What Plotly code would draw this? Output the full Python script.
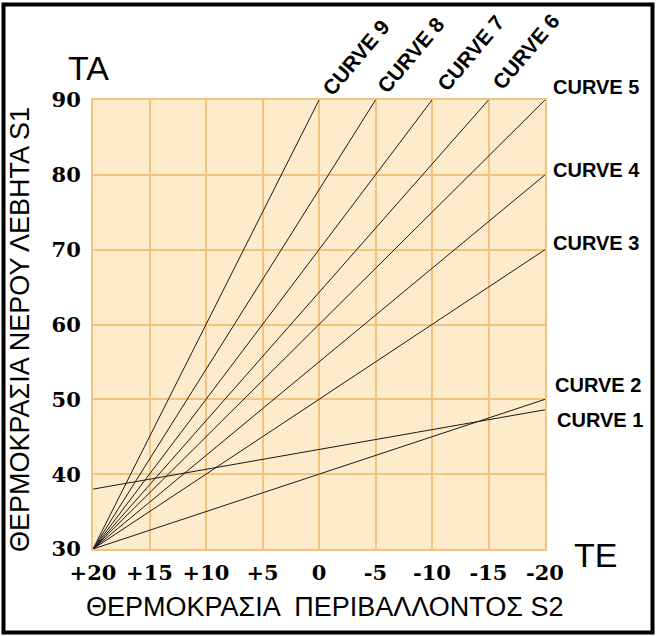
import plotly.graph_objects as go

# ---- data ----
curve_names = ["CURVE 1", "CURVE 2", "CURVE 3", "CURVE 4", "CURVE 5",
               "CURVE 6", "CURVE 7", "CURVE 8", "CURVE 9"]
te_start = [20, 20, 20, 20, 20, 20, 20, 20, 20]
ta_start = [38, 30, 30, 30, 30, 30, 30, 30, 30]
te_end = [-20, -20, -20, -20, -20, -15, -10, -5, 0]
ta_end = [48.6, 50, 70, 80, 90, 90, 90, 90, 90]

x_tickvals = [20, 15, 10, 5, 0, -5, -10, -15, -20]
x_ticktext = ["+20", "+15", "+10", "+5", "0", "-5", "-10", "-15", "-20"]
y_tickvals = [30, 40, 50, 60, 70, 80, 90]

y_title = "ΘΕΡΜΟΚΡΑΣΙΑ ΝΕΡΟΥ ΛΕΒΗΤΑ S1"
x_title = "ΘΕΡΜΟΚΡΑΣΙΑ  ΠΕΡΙΒΑΛΛΟΝΤΟΣ S2"

# ---- layout constants ----
W, H = 656, 636
ML, MR, MT, MB = 93, 111, 100, 87
PW, PH = W - ML - MR, H - MT - MB

def px(xp):
    return (xp - ML) / PW

def py(yp):
    return 1 - (yp - MT) / PH

BG = "#FDEBCB"
GRID = "#F3C27E"
LINE = "#1a1a1a"

fig = go.Figure()
for i in range(len(curve_names)):
    fig.add_trace(go.Scatter(
        x=[te_start[i], te_end[i]], y=[ta_start[i], ta_end[i]],
        mode="lines", line=dict(color=LINE, width=1),
        name=curve_names[i], showlegend=False, hoverinfo="skip"))

annotations = []
label_font = dict(family="Liberation Sans, Arial", size=20, color="black")
rot_font = dict(family="Liberation Sans, Arial", size=21, color="black")
# horizontal labels on the right (curves 1-5)
right_pos = {0: 420, 1: 385, 2: 243, 3: 170, 4: 87}
right_x = {0: 555, 1: 553, 2: 551, 3: 551, 4: 551}
for i, yp in right_pos.items():
    annotations.append(dict(
        text="<b>%s</b>" % curve_names[i], xref="paper", yref="paper",
        x=px(right_x[i]), y=py(yp), xanchor="left", yanchor="middle",
        showarrow=False, font=label_font))
# rotated labels at the top (curves 6-9)
top_pos = {5: (526, 52), 6: (470, 53), 7: (410, 55), 8: (356, 58)}
for i, (xp, yp) in top_pos.items():
    annotations.append(dict(
        text="<b>%s</b>" % curve_names[i], xref="paper", yref="paper",
        x=px(xp), y=py(yp), xanchor="center", yanchor="middle",
        textangle=-50, showarrow=False, font=rot_font))

big_font = dict(family="Liberation Sans, Arial", size=34, color="black")
annotations.append(dict(text="TA", xref="paper", yref="paper",
                        x=px(88), y=py(68), xanchor="center", yanchor="middle",
                        showarrow=False, font=big_font))
annotations.append(dict(text="TE", xref="paper", yref="paper",
                        x=px(595), y=py(555), xanchor="center", yanchor="middle",
                        showarrow=False, font=big_font))

title_font = dict(family="Liberation Sans, Arial", size=27, color="black")
annotations.append(dict(text=x_title, xref="paper", yref="paper",
                        x=px(325), y=py(607), xanchor="center", yanchor="middle",
                        showarrow=False, font=title_font))
annotations.append(dict(text=y_title, xref="paper", yref="paper",
                        x=px(20), y=py(330), xanchor="center", yanchor="middle",
                        textangle=-90, showarrow=False, font=title_font))

tick_font = dict(family="DejaVu Serif", size=21, color="black", weight="bold")

fig.update_layout(
    width=W, height=H,
    margin=dict(l=ML, r=MR, t=MT, b=MB, pad=0),
    paper_bgcolor="white", plot_bgcolor=BG,
    annotations=annotations,
    shapes=[dict(type="rect", xref="paper", yref="paper",
                 x0=px(3.5), x1=px(652.5), y0=py(4.5), y1=py(632.5),
                 line=dict(color="black", width=4), fillcolor="rgba(0,0,0,0)",
                 layer="above")],
    xaxis=dict(range=[20, -20], tickvals=x_tickvals, ticktext=x_ticktext,
               showgrid=True, gridcolor=GRID, gridwidth=2,
               showline=True, linecolor=GRID, linewidth=2, mirror=True,
               zeroline=False, ticks="", ticklabelstandoff=4,
               tickfont=tick_font),
    yaxis=dict(range=[30, 90], tickvals=y_tickvals,
               showgrid=True, gridcolor=GRID, gridwidth=2,
               showline=True, linecolor=GRID, linewidth=2, mirror=True,
               zeroline=False, ticks="", ticklabelstandoff=6,
               tickfont=tick_font),
)

fig.write_html("out.html",
               config={"displayModeBar": False},
               post_script="document.body.style.margin='0';"
                           "document.body.style.overflow='hidden';")
